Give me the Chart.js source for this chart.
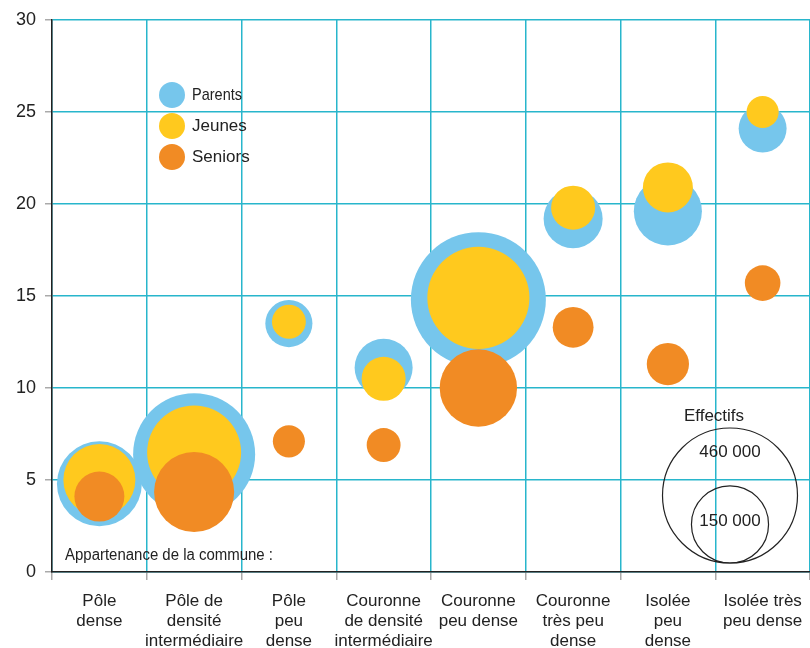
<!DOCTYPE html>
<html lang="fr">
<head>
<meta charset="UTF-8">
<title>Effectifs par type de commune</title>
<script src="https://cdn.jsdelivr.net/npm/chart.js@4.4.1/dist/chart.umd.min.js"></script>
<style>
  body { margin: 0; background: #fff; }
  canvas { display: block; }
</style>
</head>
<body>
<canvas id="myChart" width="810" height="648"></canvas>

<script>
// categories (x axis labels, one array per line)
var categories = [
  ['Pôle', 'dense'],
  ['Pôle de', 'densité', 'intermédiaire'],
  ['Pôle', 'peu', 'dense'],
  ['Couronne', 'de densité', 'intermédiaire'],
  ['Couronne', 'peu dense'],
  ['Couronne', 'très peu', 'dense'],
  ['Isolée', 'peu', 'dense'],
  ['Isolée très', 'peu dense']
];

// y values (%) per category
var parentsY = [4.8, 6.4, 13.5, 11.1, 14.8, 19.2, 19.6, 24.1];
var jeunesY  = [5.0, 6.5, 13.6, 10.5, 14.9, 19.8, 20.9, 25.0];
var seniorsY = [4.1, 4.35, 7.1, 6.9, 10.0, 13.3, 11.3, 15.7];

// effectifs (thousands) per category
var parentsEff = [182, 376, 56, 85, 460, 88, 117, 58];
var jeunesEff  = [131, 223, 29, 49, 263, 49, 63, 26];
var seniorsEff = [63, 162, 26, 29, 151, 42, 45, 32];

var yTicks = [0, 5, 10, 15, 20, 25, 30];
var sizeLegend = [460, 150];

var colors = {
  parents: 'rgb(118,198,236)',
  jeunes: 'rgb(255,201,30)',
  seniors: 'rgb(241,139,36)'
};
var gridColor = 'rgb(40,182,204)';
var font = "'Liberation Sans', Arial, sans-serif";

// bubble radius in px : area proportional to effectif
function radius(eff) {
  return 67.5 * Math.sqrt(eff / 460);
}

function points(ys, effs) {
  return ys.map(function (y, i) {
    return { x: i, y: y, r: radius(effs[i]) };
  });
}

// text squeezed horizontally to a given width (condensed look of the original)
function narrowText(ctx, text, x, y, width) {
  var w = ctx.measureText(text).width;
  var k = Math.min(1, width / w);
  ctx.save();
  ctx.translate(x, y);
  ctx.scale(k, 1);
  ctx.fillText(text, 0, 0);
  ctx.restore();
}

var legendPlugin = {
  id: 'customLegend',
  afterDraw: function (chart) {
    var ctx = chart.ctx;
    var a = chart.chartArea;
    ctx.save();

    // series legend
    var items = [
      ['Parents', colors.parents, 50],
      ['Jeunes', colors.jeunes, 999],
      ['Seniors', colors.seniors, 999]
    ];
    items.forEach(function (it, i) {
      var cy = a.top + 75 + i * 31;
      ctx.beginPath();
      ctx.fillStyle = it[1];
      ctx.arc(a.left + 120, cy, 13, 0, Math.PI * 2);
      ctx.fill();
      ctx.fillStyle = '#222';
      ctx.font = "17px " + font;
      ctx.textAlign = 'left';
      ctx.textBaseline = 'middle';
      narrowText(ctx, it[0], a.left + 140, cy, it[2]);
    });

    // size legend
    var cx = a.left + 678;
    var bottom = a.bottom - 9;
    ctx.strokeStyle = '#222';
    ctx.lineWidth = 1.2;
    sizeLegend.forEach(function (eff) {
      var r = radius(eff);
      ctx.beginPath();
      ctx.arc(cx, bottom - r, r, 0, Math.PI * 2);
      ctx.stroke();
    });
    ctx.fillStyle = '#222';
    ctx.textAlign = 'center';
    ctx.textBaseline = 'middle';
    ctx.font = "17px " + font;
    ctx.fillText('Effectifs', cx - 16, a.bottom - 156);
    ctx.fillText('460 000', cx, a.bottom - 120);
    ctx.fillText('150 000', cx, a.bottom - 51);

    // caption above axis
    ctx.font = "16px " + font;
    ctx.textAlign = 'left';
    narrowText(ctx, 'Appartenance de la commune :', a.left + 13, a.bottom - 16, 208);
    ctx.restore();
  }
};

var ctx = document.getElementById('myChart').getContext('2d');

var myChart = new Chart(ctx, {
  type: 'bubble',
  data: {
    labels: categories,
    datasets: [
      { label: 'Parents', data: points(parentsY, parentsEff), backgroundColor: colors.parents, borderWidth: 0, order: 3 },
      { label: 'Jeunes', data: points(jeunesY, jeunesEff), backgroundColor: colors.jeunes, borderWidth: 0, order: 2 },
      { label: 'Seniors', data: points(seniorsY, seniorsEff), backgroundColor: colors.seniors, borderWidth: 0, order: 1 }
    ]
  },
  options: {
    responsive: false,
    animation: false,
    devicePixelRatio: 1,
    layout: { autoPadding: false, padding: { top: 20, right: 0, left: 0, bottom: 0 } },
    plugins: {
      legend: { display: false },
      tooltip: { enabled: false }
    },
    scales: {
      x: {
        type: 'category',
        offset: true,
        min: 0,
        max: categories.length - 1,
        grid: { offset: true, color: gridColor, lineWidth: 1.5, tickColor: '#aaa', tickLength: 8 },
        border: { display: true, color: '#222', width: 1.5 },
        ticks: {
          color: '#222',
          font: { family: font, size: 17, lineHeight: 1.15 },
          padding: 12,
          maxRotation: 0,
          autoSkip: false
        },
        afterFit: function (s) {
          s.height = 76;
          s.paddingLeft = 0;
          s.paddingRight = 0;
        }
      },
      y: {
        min: 0,
        max: 30,
        afterBuildTicks: function (s) {
          s.ticks = yTicks.map(function (v) { return { value: v }; });
        },
        grid: { color: gridColor, lineWidth: 1.5, tickColor: '#aaa', tickLength: 7 },
        border: { display: true, color: '#222', width: 1.5 },
        ticks: {
          color: '#222',
          font: { family: font, size: 18 },
          padding: 9
        },
        afterFit: function (s) { s.width = 52; }
      }
    }
  },
  plugins: [legendPlugin]
});
</script>
</body>
</html>
